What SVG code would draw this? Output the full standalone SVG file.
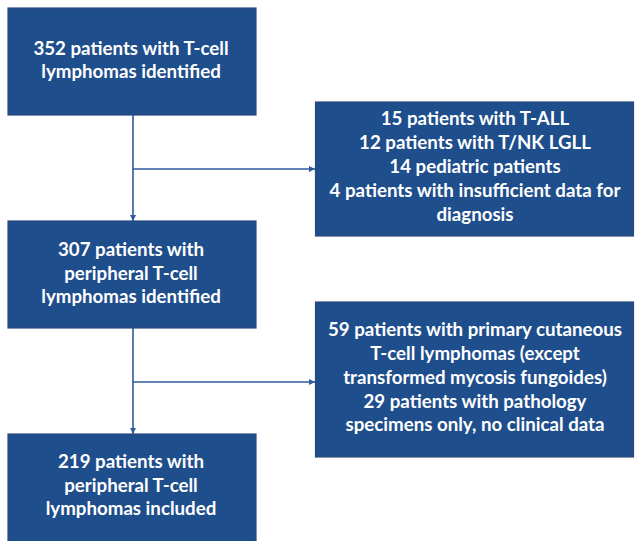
<svg xmlns="http://www.w3.org/2000/svg" width="636" height="541" viewBox="0 0 636 541">
<style>
.box{fill:#1f4e8c;stroke:#2a4a7c;stroke-width:1.2}
.t{font-family:Lato,"Open Sans","Liberation Sans",sans-serif;font-weight:bold;font-size:18.7px;fill:#ffffff;text-anchor:middle}
.c{fill:none;stroke:#2f5a9c;stroke-width:1.6}
</style>
<defs>
<marker id="ah" viewBox="0 0 10 10" refX="10" refY="5" markerWidth="6" markerHeight="6" orient="auto" markerUnits="userSpaceOnUse">
<path d="M0,0 L10,5 L0,10 z" fill="#2f5a9c"/>
</marker>
</defs>
<rect width="636" height="541" fill="#ffffff"/>
<g id="connectors">
<line class="c" x1="133" y1="115" x2="133" y2="221" marker-end="url(#ah)"/>
<line class="c" x1="133" y1="169" x2="315" y2="169" marker-end="url(#ah)"/>
<line class="c" x1="133" y1="328" x2="133" y2="434" marker-end="url(#ah)"/>
<line class="c" x1="133" y1="382" x2="315" y2="382" marker-end="url(#ah)"/>
</g>
<g id="n1">
<rect class="box" x="8" y="8" width="248" height="107"/>
<text class="t" x="131" y="55">352 patients with T-cell</text>
<text class="t" x="131" y="78">lymphomas identified</text>
</g>
<g id="n2">
<rect class="box" x="315.5" y="102" width="318" height="134"/>
<text class="t" x="475" y="125">15 patients with T-ALL</text>
<text class="t" x="475" y="149">12 patients with T/NK LGLL</text>
<text class="t" x="475" y="173">14 pediatric patients</text>
<text class="t" x="475" y="197">4 patients with insufficient data for</text>
<text class="t" x="475" y="221">diagnosis</text>
</g>
<g id="n3">
<rect class="box" x="8" y="221" width="248" height="107"/>
<text class="t" x="131" y="256">307 patients with</text>
<text class="t" x="131" y="280">peripheral T-cell</text>
<text class="t" x="131" y="303">lymphomas identified</text>
</g>
<g id="n4">
<rect class="box" x="315.5" y="302" width="318" height="155"/>
<text class="t" x="475" y="336">59 patients with primary cutaneous</text>
<text class="t" x="475" y="360">T-cell lymphomas (except</text>
<text class="t" x="475" y="384">transformed mycosis fungoides)</text>
<text class="t" x="475" y="408">29 patients with pathology</text>
<text class="t" x="475" y="431">specimens only, no clinical data</text>
</g>
<g id="n5">
<rect class="box" x="8" y="434" width="248" height="120"/>
<text class="t" x="131" y="468">219 patients with</text>
<text class="t" x="131" y="492">peripheral T-cell</text>
<text class="t" x="131" y="515">lymphomas included</text>
</g>
</svg>
